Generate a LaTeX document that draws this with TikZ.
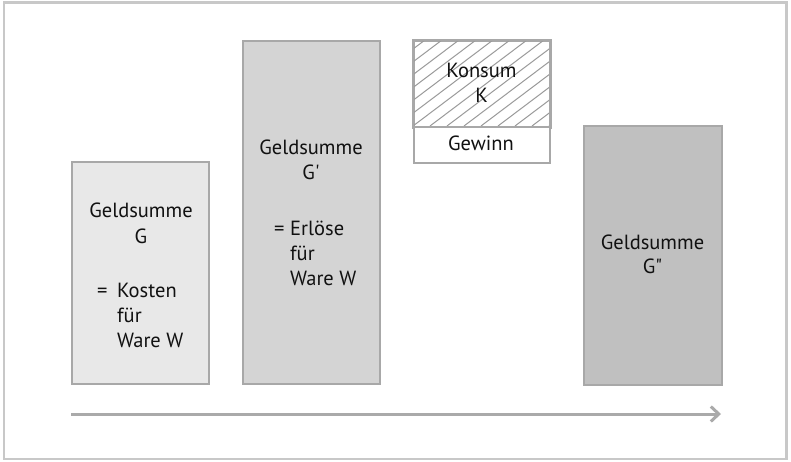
\documentclass[tikz,border=0pt]{standalone}
\usepackage{fontspec}
\setmainfont{PT Sans}
\usetikzlibrary{arrows.meta}
\definecolor{framegray}{HTML}{C8C8C8}
\definecolor{boxline}{HTML}{A8A8A8}
\definecolor{fillA}{HTML}{E8E8E8}
\definecolor{fillB}{HTML}{D4D4D4}
\definecolor{fillC}{HTML}{C0C0C0}
\definecolor{hatchgray}{HTML}{9A9A9A}
\definecolor{arrowgray}{HTML}{AAAAAA}
\definecolor{txt}{HTML}{111111}
\tikzset{
  barbox/.style={draw=boxline, line width=2pt, inner sep=0pt, anchor=north west},
  lbl/.style={text=txt, inner sep=0pt, font=\fontsize{20.5}{25}\selectfont},
  hatchline/.style={draw=hatchgray, line width=1pt},
  timearrow/.style={draw=arrowgray, line width=3pt, -{Straight Barb[length=8pt,width=15pt,line width=3pt]}}
}
\begin{document}
\begin{tikzpicture}[x=1pt,y=-1pt]
\useasboundingbox (0,0) rectangle (791,462);
% outer frame
\draw[framegray, line width=2.5pt] (4,2.5) rectangle (786.5,459);

% bars
\node[barbox, fill=fillA, minimum width=137pt, minimum height=222pt] (gA) at (71,161) {};
\node[barbox, fill=fillB, minimum width=137pt, minimum height=343pt] (gB) at (242,40) {};
\node[barbox, fill=fillC, minimum width=138pt, minimum height=259pt] (gC) at (583,125) {};

% Konsum (hatched) and Gewinn
\node[barbox, fill=white, minimum width=136pt, minimum height=86pt] (konsum) at (413,40) {};
\begin{scope}
  \clip (413,40) rectangle (549,126);
  \foreach \i in {-8,...,9} {
    \draw[hatchline] ({413+\i*17},126) -- ({413+\i*17+114},40);
  }
\end{scope}
\draw[boxline, line width=2pt] (konsum.north west) rectangle (konsum.south east);
\node[barbox, fill=white, minimum width=136pt, minimum height=36pt] (gewinn) at (413,126) {};

% texts bar A
\node[lbl, anchor=base] (a1) at (141,218) {Geldsumme};
\node[lbl, anchor=base] (a2) at (141,243) {G};
\node[lbl, anchor=base west] (a3) at (97,297) {=};
\node[lbl, anchor=base west] (a4) at (117,297) {Kosten};
\node[lbl, anchor=base west] (a5) at (117,322) {für};
\node[lbl, anchor=base west] (a6) at (117,347) {Ware W};

% texts bar B
\node[lbl, anchor=base] (b1) at (311,155) {Geldsumme};
\node[lbl, anchor=base] (b2) at (311,180) {G\textquotesingle};
\node[lbl, anchor=base west] (b3) at (274,235) {=};
\node[lbl, anchor=base west] (b4) at (290,235) {Erlöse};
\node[lbl, anchor=base west] (b5) at (290,260) {für};
\node[lbl, anchor=base west] (b6) at (290,285) {Ware W};

% texts Konsum / Gewinn
\node[lbl, anchor=base] (k1) at (481.5,78) {Konsum};
\node[lbl, anchor=base] (k2) at (481.5,103) {K};
\node[lbl, anchor=base] (w1) at (481,151) {Gewinn};

% texts bar C
\node[lbl, anchor=base] (c1) at (652.5,249) {Geldsumme};
\node[lbl, anchor=base] (c2) at (652.5,273) {G\textquotedbl};

% time arrow
\coordinate (tstart) at (71,414);
\coordinate (tend) at (721,414);
\draw[timearrow] (tstart) -- (tend);
\end{tikzpicture}
\end{document}
